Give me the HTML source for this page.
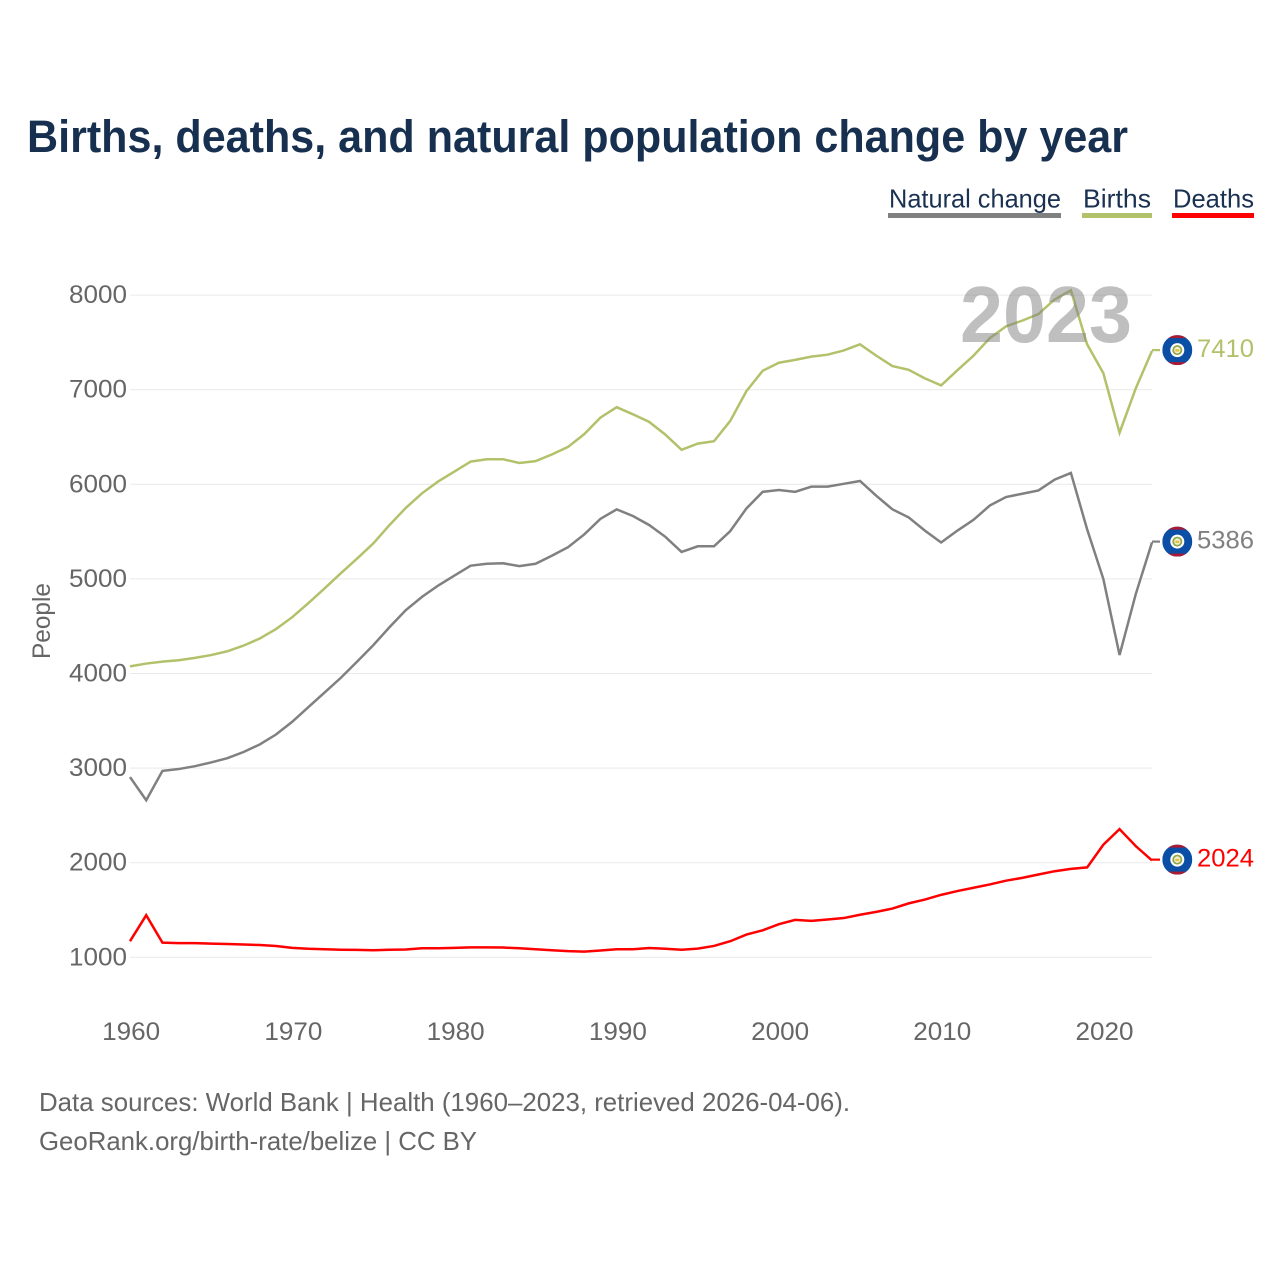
<!DOCTYPE html>
<html lang="en">
<head>
<meta charset="utf-8">
<title>Births, deaths, and natural population change by year</title>
<style>
html,body{margin:0;padding:0;background:#fff;width:1280px;height:1280px;overflow:hidden}
svg{display:block;font-family:"Liberation Sans",sans-serif}
</style>
</head>
<body>
<svg id="chart" width="1280" height="1280" viewBox="0 0 1280 1280" xmlns="http://www.w3.org/2000/svg">
  <defs><clipPath id="flag-clip"><circle cx="0" cy="0" r="15"></circle></clipPath></defs>
  <text x="27" y="152" font-size="45" font-weight="bold" fill="#17304f" textLength="1101" lengthAdjust="spacingAndGlyphs">Births, deaths, and natural population change by year</text>

  <g>
    <g>
      <text x="889" y="207.5" font-size="26" fill="#1a3152" textLength="172" lengthAdjust="spacingAndGlyphs">Natural change</text>
      <rect x="888" y="213" width="173" height="5" fill="#808080"></rect>
    </g>
    <g>
      <text x="1083" y="207.5" font-size="26" fill="#1a3152" textLength="68" lengthAdjust="spacingAndGlyphs">Births</text>
      <rect x="1082" y="213" width="70" height="5" fill="#b1c26b"></rect>
    </g>
    <g>
      <text x="1173" y="207.5" font-size="26" fill="#1a3152" textLength="81" lengthAdjust="spacingAndGlyphs">Deaths</text>
      <rect x="1172" y="213" width="82" height="5" fill="#ff0000"></rect>
    </g>
  </g>

  <g id="grid"></g>
  <g id="y-axis"></g>
  <g id="x-axis"></g>
  <text transform="translate(50,621) rotate(-90)" text-anchor="middle" font-size="25" fill="#666666" textLength="76" lengthAdjust="spacingAndGlyphs">People</text>
  <g id="series"></g>
  <text x="960" y="342" font-size="80" font-weight="bold" fill="#808080" fill-opacity="0.5" textLength="172" lengthAdjust="spacingAndGlyphs">2023</text>
  <g id="end-markers"></g>

  <text x="39" y="1111" font-size="26" fill="#666666" textLength="811" lengthAdjust="spacingAndGlyphs">Data sources: World Bank | Health (1960–2023, retrieved 2026-04-06).</text>
  <text x="39" y="1150" font-size="26" fill="#666666" textLength="438" lengthAdjust="spacingAndGlyphs">GeoRank.org/birth-rate/belize | CC BY</text>
</svg>
<script>
const startYear = 1960;
const birthsValues = [4075,4105,4125,4140,4165,4195,4235,4295,4370,4470,4595,4745,4900,5060,5215,5375,5570,5750,5905,6030,6135,6240,6265,6265,6225,6245,6315,6395,6530,6705,6815,6740,6660,6525,6365,6430,6455,6670,6985,7200,7285,7315,7350,7370,7415,7480,7360,7250,7210,7120,7045,7205,7360,7545,7670,7730,7800,7955,8050,7480,7175,6545,7015,7410];
const naturalValues = [2905,2660,2970,2990,3020,3060,3105,3170,3250,3355,3490,3645,3800,3955,4125,4300,4490,4670,4810,4930,5035,5140,5160,5165,5135,5160,5245,5335,5470,5635,5735,5665,5570,5445,5285,5345,5345,5505,5745,5920,5940,5920,5975,5975,6005,6035,5880,5735,5650,5510,5385,5510,5625,5775,5865,5900,5935,6050,6120,5525,5000,4195,4840,5386];
const deathsValues = [1170,1445,1155,1150,1150,1145,1140,1135,1130,1120,1100,1090,1085,1080,1078,1075,1080,1082,1095,1095,1100,1105,1105,1103,1095,1085,1075,1065,1060,1072,1085,1085,1098,1090,1080,1092,1120,1170,1240,1285,1350,1395,1385,1400,1415,1450,1480,1515,1570,1610,1660,1700,1735,1770,1810,1840,1875,1910,1935,1950,2190,2355,2175,2024];
const yTickValues = [1000,2000,3000,4000,5000,6000,7000,8000];
const xTickYears = [1960,1970,1980,1990,2000,2010,2020];

const NS = 'http://www.w3.org/2000/svg';
const plotLeft = 130, plotRight = 1152;
const xScale = function (year) { return plotLeft + (year - 1960) * (plotRight - plotLeft) / 63; };
const yScale = function (value) { return 957.3 - (value - 1000) * 94.6 / 1000; };

function make(tag, attrs, parent) {
  const el = document.createElementNS(NS, tag);
  Object.keys(attrs).forEach(function (k) { el.setAttribute(k, attrs[k]); });
  parent.appendChild(el);
  return el;
}

const grid = document.getElementById('grid');
const yAxis = document.getElementById('y-axis');
yTickValues.forEach(function (v) {
  const line = make('line', {x1: plotLeft, x2: plotRight, y1: yScale(v), y2: yScale(v), stroke: '#e9e9e9', 'stroke-width': 1}, grid);
  
  
  const label = make('text', {x: 127, y: yScale(v) + 8, 'text-anchor': 'end', 'font-size': 25, fill: '#666666', textLength: 58, lengthAdjust: 'spacingAndGlyphs'}, yAxis);
  
  
  label.textContent = String(v);
});

const xAxis = document.getElementById('x-axis');
xTickYears.forEach(function (yr) {
  const label = make('text', {x: xScale(yr) + 1.2, y: 1040, 'text-anchor': 'middle', 'font-size': 25, fill: '#666666', textLength: 58, lengthAdjust: 'spacingAndGlyphs'}, xAxis);
  
  
  label.textContent = String(yr);
});

function linePoints(values) {
  return values.map(function (v, i) {
    return xScale(startYear + i).toFixed(2) + ',' + yScale(v).toFixed(2);
  }).join(' ');
}

function endY(values) { return yScale(values[values.length - 1]) - 0.8; }
function endValue(values) { return values[values.length - 1]; }

function drawEnd(group, values, color) {
  const y = endY(values);
  const stub = make('line', {x1: plotRight, x2: 1160, y1: y, y2: y, stroke: color, 'stroke-width': 2.2}, group);
  
  
  const flag = make('g', {transform: 'translate(1177.3,' + y + ')', 'clip-path': 'url(#flag-clip)'}, group);
  
  
  make('rect', {x: -15, y: -15, width: 30, height: 30, fill: '#0a4ea6'}, flag);
  make('rect', {x: -15, y: -15, width: 30, height: 3, fill: '#ab1a33'}, flag);
  make('rect', {x: -15, y: 12, width: 30, height: 3, fill: '#ab1a33'}, flag);
  make('circle', {r: 7, fill: '#ffffff'}, flag);
  make('circle', {r: 5, fill: '#8fa84e'}, flag);
  make('circle', {r: 3.2, fill: '#f6f2d8'}, flag);
  make('rect', {x: -2, y: -1, width: 4, height: 2.5, fill: '#e8c33a'}, flag);
  const label = make('text', {x: 1197, y: y + 6.7, 'font-size': 25, fill: color, textLength: 57, lengthAdjust: 'spacingAndGlyphs'}, group);
  
  
  label.textContent = String(endValue(values));
}

const seriesGroup = document.getElementById('series');
const endGroup = document.getElementById('end-markers');

const birthsLine = make('polyline', {points: linePoints(birthsValues), fill: 'none', stroke: '#b1c26b', 'stroke-width': 2.5, 'stroke-linejoin': 'miter'}, seriesGroup);


const naturalLine = make('polyline', {points: linePoints(naturalValues), fill: 'none', stroke: '#808080', 'stroke-width': 2.5, 'stroke-linejoin': 'miter'}, seriesGroup);


const deathsLine = make('polyline', {points: linePoints(deathsValues), fill: 'none', stroke: '#ff0000', 'stroke-width': 2.5, 'stroke-linejoin': 'miter'}, seriesGroup);



drawEnd(endGroup, birthsValues, '#b1c26b');
drawEnd(endGroup, naturalValues, '#808080');
drawEnd(endGroup, deathsValues, '#ff0000');
</script>
</body>
</html>
